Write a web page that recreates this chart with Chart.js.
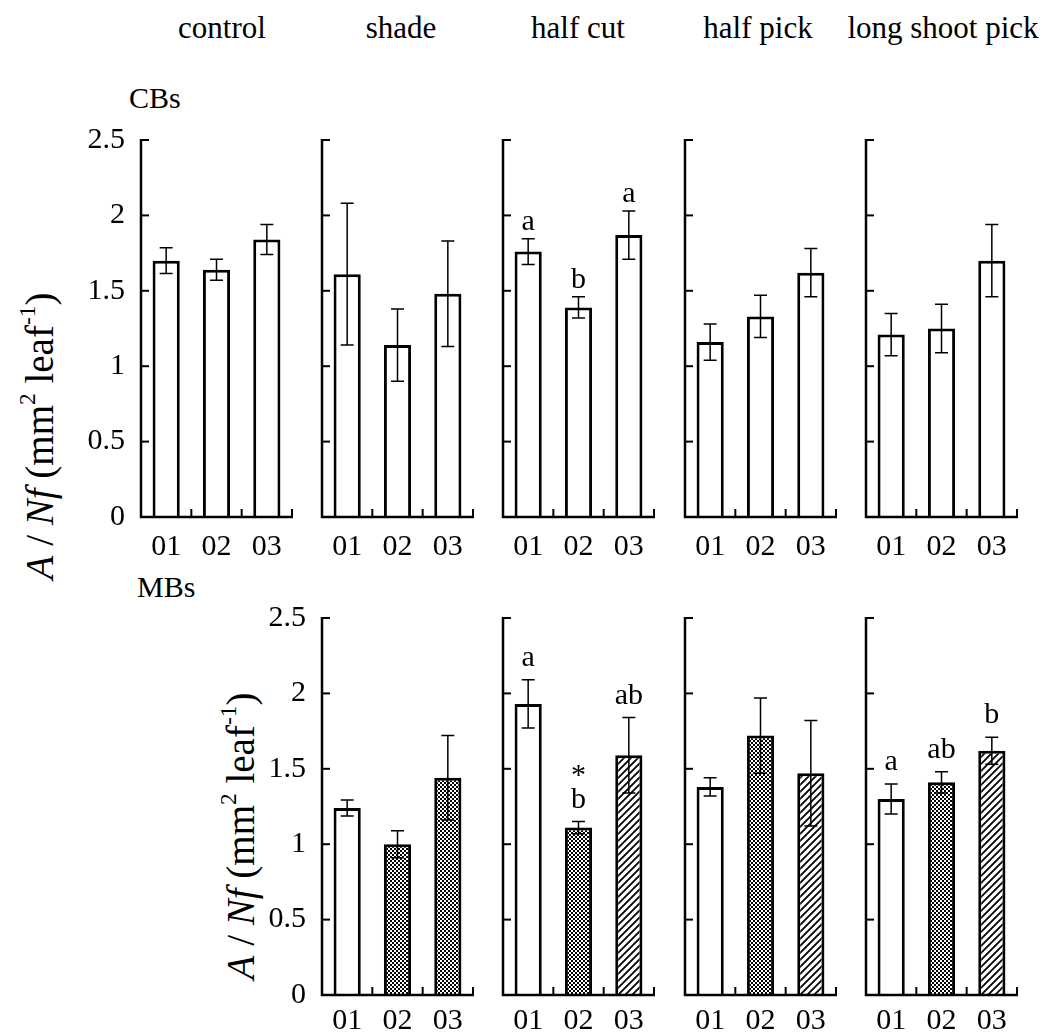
<!DOCTYPE html>
<html>
<head>
<meta charset="utf-8">
<script src="https://cdn.jsdelivr.net/npm/chart.js@4.4.1/dist/chart.umd.min.js"></script>
<style>
  html, body { margin:0; padding:0; background:#fff; overflow:hidden; }
  body { width:1047px; height:1032px; position:relative; font-family:"Liberation Serif","Times New Roman",serif; color:#000; }
  .lbl { position:absolute; white-space:nowrap; line-height:1; }
  .col { font-size:31px; transform:translateX(-50%); }
  .row { font-size:30px; }
  .ytitle { font-size:39px; transform:translate(-50%,-50%) rotate(-90deg); }
  .ytitle sup { font-size:0.6em; vertical-align:0; position:relative; top:-0.75em; }
  .panel { position:absolute; }
</style>
</head>
<body>
<div class="lbl col" style="left:222px;top:12px">control</div>
<div class="lbl col" style="left:401px;top:12px">shade</div>
<div class="lbl col" style="left:578px;top:12px">half cut</div>
<div class="lbl col" style="left:758px;top:12px">half pick</div>
<div class="lbl col" style="left:943px;top:12px">long shoot pick</div>
<div class="lbl row" style="left:129px;top:83px">CBs</div>
<div class="lbl row" style="left:137px;top:572px">MBs</div>
<div class="lbl ytitle" style="left:39px;top:436px"><i>A</i> / <i>Nf</i> (mm<sup>2</sup> leaf<sup>-1</sup>)</div>
<div class="lbl ytitle" style="left:240px;top:836px"><i>A</i> / <i>Nf</i> (mm<sup>2</sup> leaf<sup>-1</sup>)</div>

<script>
const groups = ['01', '02', '03'];
const yTicks = [0, 0.5, 1, 1.5, 2, 2.5];
const yTickLabels = ['0', '0.5', '1', '1.5', '2', '2.5'];

// CBs row: control, shade, half cut, half pick, long shoot pick
const cbMeans = [
  [1.70, 1.64, 1.84],
  [1.61, 1.14, 1.48],
  [1.76, 1.39, 1.87],
  [1.16, 1.33, 1.62],
  [1.21, 1.25, 1.70]
];
const cbErrs = [
  [0.085, 0.07, 0.10],
  [0.47, 0.24, 0.35],
  [0.085, 0.07, 0.16],
  [0.12, 0.14, 0.16],
  [0.14, 0.16, 0.24]
];
const cbLetters = [
  ['', '', ''],
  ['', '', ''],
  ['a', 'b', 'a'],
  ['', '', ''],
  ['', '', '']
];

// MBs row: shade, half cut, half pick, long shoot pick (no control)
const mbMeans = [
  [1.24, 1.00, 1.44],
  [1.93, 1.11, 1.59],
  [1.38, 1.72, 1.47],
  [1.30, 1.41, 1.62]
];
const mbErrs = [
  [0.053, 0.09, 0.28],
  [0.16, 0.04, 0.25],
  [0.06, 0.25, 0.35],
  [0.10, 0.07, 0.09]
];
const mbLetters = [
  ['', '', ''],
  ['a', '*|b', 'ab'],
  ['', '', ''],
  ['a', 'ab', 'b']
];
const mbFills = [
  ['white', 'check', 'check'],
  ['white', 'check', 'hatch'],
  ['white', 'check', 'hatch'],
  ['white', 'check', 'hatch']
];

/* layout */
const colX = [141, 322, 503, 685, 866];
const plotW = 151, plotH = 377;
const rowTop = [140, 618];
const padL = 70, padR = 20, padT = 40, padB = 50;
const FONT = '"Liberation Serif", "Times New Roman", serif';

/* fill patterns */
function makeCheck() {
  const c = document.createElement('canvas');
  c.width = 4; c.height = 4;
  const g = c.getContext('2d');
  g.fillStyle = '#fff'; g.fillRect(0, 0, 4, 4);
  g.fillStyle = '#000'; g.fillRect(0, 0, 2, 2); g.fillRect(2, 2, 2, 2);
  return g.createPattern(c, 'repeat');
}
function makeHatch() {
  const s = 7;
  const c = document.createElement('canvas');
  c.width = s; c.height = s;
  const g = c.getContext('2d');
  g.fillStyle = '#fff'; g.fillRect(0, 0, s, s);
  g.strokeStyle = '#000'; g.lineWidth = 1.8;
  g.beginPath();
  g.moveTo(0, s); g.lineTo(s, 0);
  g.moveTo(-1, 1); g.lineTo(1, -1);
  g.moveTo(s - 1, s + 1); g.lineTo(s + 1, s - 1);
  g.stroke();
  return g.createPattern(c, 'repeat');
}
const fills = { white: '#ffffff', check: makeCheck(), hatch: makeHatch() };

/* axes with inward ticks, error bars and letters */
const framePlugin = {
  id: 'frame',
  afterDatasetsDraw(chart) {
    const { ctx, chartArea: a, scales: { x, y } } = chart;
    const p = chart.options.plugins.frame;
    ctx.save();
    ctx.strokeStyle = '#000';
    ctx.lineCap = 'butt';

    // error bars
    ctx.lineWidth = 1.5;
    const meta = chart.getDatasetMeta(0);
    meta.data.forEach((bar, i) => {
      const m = p.means[i], e = p.errs[i];
      const yt = y.getPixelForValue(m + e), yb = y.getPixelForValue(m - e);
      ctx.beginPath();
      ctx.moveTo(bar.x, yt); ctx.lineTo(bar.x, yb);
      ctx.moveTo(bar.x - 6.5, yt); ctx.lineTo(bar.x + 6.5, yt);
      ctx.moveTo(bar.x - 6.5, yb); ctx.lineTo(bar.x + 6.5, yb);
      ctx.stroke();
    });

    // axis lines
    ctx.lineWidth = 2.5;
    ctx.beginPath();
    ctx.moveTo(a.left, y.getPixelForValue(2.5) - 1);
    ctx.lineTo(a.left, a.bottom);
    ctx.lineTo(a.right + 1, a.bottom);
    ctx.stroke();

    // inward y ticks
    ctx.lineWidth = 2;
    yTicks.forEach(v => {
      if (v === 0) return;
      const py = y.getPixelForValue(v);
      ctx.beginPath(); ctx.moveTo(a.left, py); ctx.lineTo(a.left + 8, py); ctx.stroke();
    });
    // upward x ticks at category edges
    for (let i = 0; i < groups.length; i++) {
      const px = i < groups.length - 1 ? (x.getPixelForValue(i) + x.getPixelForValue(i + 1)) / 2 : a.right;
      ctx.beginPath(); ctx.moveTo(px, a.bottom); ctx.lineTo(px, a.bottom - 8); ctx.stroke();
    }

    // significance letters
    ctx.fillStyle = '#000';
    ctx.font = '30px ' + FONT;
    ctx.textAlign = 'center';
    ctx.textBaseline = 'alphabetic';
    meta.data.forEach((bar, i) => {
      const t = p.letters[i];
      if (!t) return;
      const lines = t.split('|').reverse();
      let by = y.getPixelForValue(p.means[i] + p.errs[i]) - p.gap;
      lines.forEach(s => {
        ctx.fillText(s, bar.x, s === '*' ? by + 10 : by);
        by -= 34;
      });
    });
    ctx.restore();
  }
};

function makePanel(row, col, means, errs, letters, fillKeys) {
  const wrap = document.createElement('div');
  wrap.className = 'panel';
  const W = padL + plotW + padR, H = padT + plotH + padB;
  wrap.style.left = (colX[col] - padL) + 'px';
  wrap.style.top = (rowTop[row] - padT) + 'px';
  wrap.style.width = W + 'px';
  wrap.style.height = H + 'px';
  const cv = document.createElement('canvas');
  cv.width = W; cv.height = H;
  cv.style.width = W + 'px'; cv.style.height = H + 'px';
  wrap.appendChild(cv);
  document.body.appendChild(wrap);

  const showY = col === (row === 0 ? 0 : 1);
  new Chart(cv.getContext('2d'), {
    type: 'bar',
    data: {
      labels: groups,
      datasets: [{
        data: means,
        backgroundColor: fillKeys.map(k => fills[k]),
        borderColor: '#000',
        borderWidth: 3,
        borderSkipped: 'start',
        categoryPercentage: 1,
        barPercentage: 0.54
      }]
    },
    options: {
      responsive: false,
      animation: false,
      events: [],
      layout: { autoPadding: false, padding: { left: 0, right: padR, top: padT, bottom: 0 } },
      plugins: {
        legend: { display: false },
        tooltip: { enabled: false },
        frame: { means, errs, letters, gap: row === 0 ? 9 : 14 }
      },
      scales: {
        x: {
          offset: true,
          grid: { display: false, drawTicks: false },
          border: { display: false },
          ticks: { color: '#000', font: { family: FONT, size: 30 }, padding: row === 0 ? 12 : 8, maxRotation: 0 },
          afterFit: s => { s.height = padB; }
        },
        y: {
          min: 0, max: 2.5,
          afterBuildTicks: s => { s.ticks = yTicks.map(v => ({ value: v })); },
          grid: { display: false, drawTicks: false },
          border: { display: false },
          ticks: {
            display: showY,
            color: '#000',
            font: { family: FONT, size: 30 },
            padding: 16,
            callback: (v) => yTickLabels[yTicks.indexOf(v)]
          },
          afterFit: s => { s.width = padL; }
        }
      }
    },
    plugins: [framePlugin]
  });
}

cbMeans.forEach((m, i) => makePanel(0, i, m, cbErrs[i], cbLetters[i], ['white', 'white', 'white']));
mbMeans.forEach((m, i) => makePanel(1, i + 1, m, mbErrs[i], mbLetters[i], mbFills[i]));
</script>
</body>
</html>
